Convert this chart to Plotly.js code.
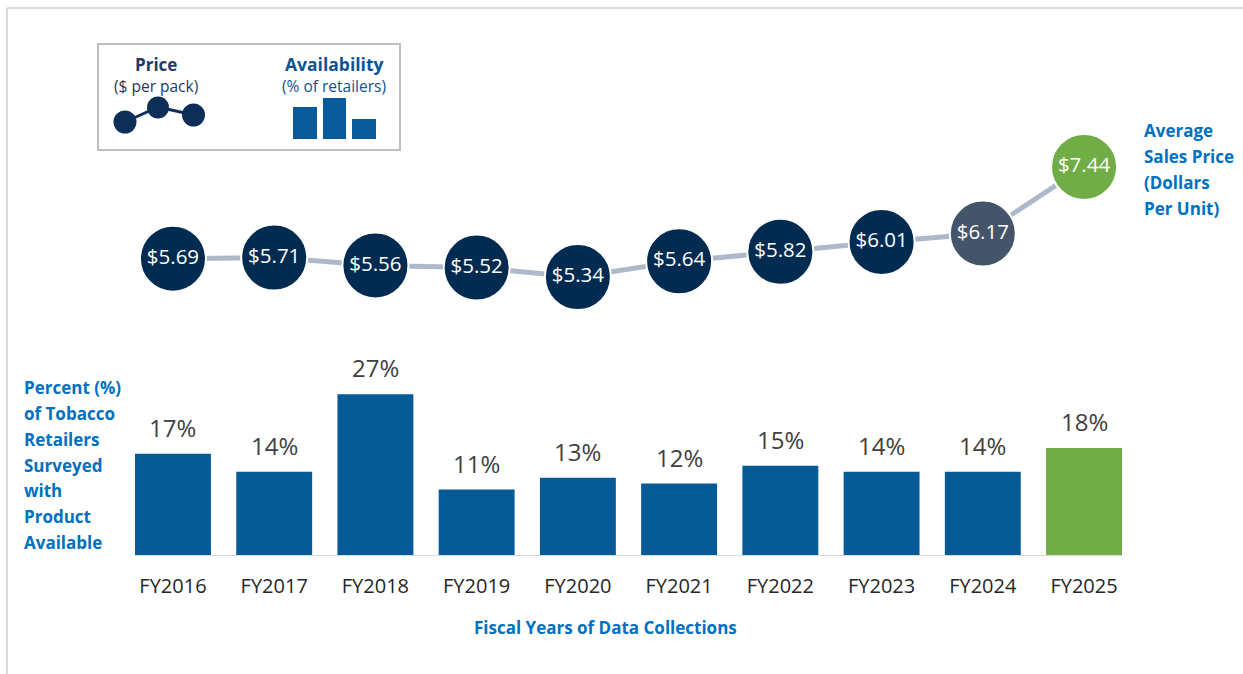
<!DOCTYPE html>
<html>
<head>
<meta charset="utf-8">
<script src="https://cdn.plot.ly/plotly-3.0.1.min.js"></script>
<style>html,body{margin:0;padding:0;background:#fff;}#chart{width:1243px;height:674px;}</style>
</head>
<body>
<div id="chart"></div>
<script>
// ---- data ----
const years = ["FY2016","FY2017","FY2018","FY2019","FY2020","FY2021","FY2022","FY2023","FY2024","FY2025"];
const availability = [17, 14, 27, 11, 13, 12, 15, 14, 14, 18];
const prices = [5.69, 5.71, 5.56, 5.52, 5.34, 5.64, 5.82, 6.01, 6.17, 7.44];
const priceLabels = ["$5.69","$5.71","$5.56","$5.52","$5.34","$5.64","$5.82","$6.01","$6.17","$7.44"];
const availLabels = ["17%","14%","27%","11%","13%","12%","15%","14%","14%","18%"];
const leftTitleLines = ["Percent (%)","of Tobacco","Retailers","Surveyed","with","Product","Available"];
const rightTitleLines = ["Average","Sales Price","(Dollars","Per Unit)"];
const xTitle = "Fiscal Years of Data Collections";

// ---- styling ----
const NAVY = "#022b52", SLATE = "#44546a", GREEN = "#70ad47", BARBLUE = "#065a96", LBLUE = "#0070c0";
const barColors = years.map((y,i)=> i===years.length-1 ? GREEN : BARBLUE);
const dotColors = years.map((y,i)=> i===years.length-1 ? GREEN : (i===years.length-2 ? SLATE : NAVY));

const W=1243,H=674, L=135, R=121, T=10, B=119;
const PW=W-L-R, PH=H-T-B;
const fx = px => (px-L)/PW;
const fy = py => (H-B-py)/PH;

const FONT = "Open Sans, Lato, sans-serif";

const traces = [
  {type:"bar", x:years, y:availability, marker:{color:barColors}, width:0.75,
   hoverinfo:"skip", xaxis:"x", yaxis:"y"},
  {type:"scatter", mode:"lines+markers+text", x:years, y:prices, text:priceLabels,
   textposition:"middle center", textfont:{family:FONT, size:20.5, color:"#ffffff"},
   line:{color:"#adb9ca", width:5},
   marker:{size:66, color:dotColors, line:{color:"#ffffff", width:2}},
   cliponaxis:false, hoverinfo:"skip", xaxis:"x", yaxis:"y2"}
];

const annotations = [];
years.forEach((y,i)=>{
  annotations.push({x:y, y:availability[i], xref:"x", yref:"y", text:availLabels[i],
    showarrow:false, yanchor:"bottom", yshift:8, font:{family:FONT, size:24, color:"#404040"}});
});
leftTitleLines.forEach((t,i)=>{
  annotations.push({xref:"paper", yref:"paper", x:fx(22), y:fy(388+i*25.7), text:"<b>"+t+"</b>",
    xanchor:"left", yanchor:"middle", showarrow:false, font:{family:FONT, size:17, color:LBLUE}});
});
rightTitleLines.forEach((t,i)=>{
  annotations.push({xref:"paper", yref:"paper", x:fx(1142), y:fy(131+i*25.7), text:"<b>"+t+"</b>",
    xanchor:"left", yanchor:"middle", showarrow:false, font:{family:FONT, size:17, color:LBLUE}});
});
annotations.push({xref:"paper", yref:"paper", x:fx(605), y:fy(627), text:"<b>"+xTitle+"</b>",
  xanchor:"center", yanchor:"middle", showarrow:false, font:{family:FONT, size:17, color:LBLUE}});
// legend box texts
annotations.push({xref:"paper", yref:"paper", x:fx(156), y:fy(64), text:"<b>Price</b>", showarrow:false,
  xanchor:"center", yanchor:"middle", font:{family:FONT, size:17, color:"#1f3864"}});
annotations.push({xref:"paper", yref:"paper", x:fx(156), y:fy(86), text:"($ per pack)", showarrow:false,
  xanchor:"center", yanchor:"middle", font:{family:FONT, size:15.5, color:"#1f3864"}});
annotations.push({xref:"paper", yref:"paper", x:fx(334), y:fy(64), text:"<b>Availability</b>", showarrow:false,
  xanchor:"center", yanchor:"middle", font:{family:FONT, size:17.5, color:"#0b5394"}});
annotations.push({xref:"paper", yref:"paper", x:fx(334), y:fy(86), text:"(% of retailers)", showarrow:false,
  xanchor:"center", yanchor:"middle", font:{family:FONT, size:15.5, color:"#0b5394"}});

function rectPx(x0,y0,x1,y1,opts){
  return Object.assign({type:"rect", xref:"paper", yref:"paper", x0:fx(x0), x1:fx(x1), y0:fy(y0), y1:fy(y1)}, opts);
}
function circPx(cx,cy,r,color){
  return {type:"circle", xref:"paper", yref:"paper", x0:fx(cx-r), x1:fx(cx+r), y0:fy(cy-r), y1:fy(cy+r),
    fillcolor:color, line:{width:0}};
}
const legendNavy = "#0d2f57", legendBlue = "#0a5a9a";
const shapes = [
  // outer frame
  {type:"line", xref:"paper", yref:"paper", x0:fx(7), x1:fx(1250), y0:fy(8), y1:fy(8), line:{color:"#d9d9d9", width:2}},
  {type:"line", xref:"paper", yref:"paper", x0:fx(7), x1:fx(7), y0:fy(8), y1:fy(680), line:{color:"#d9d9d9", width:2}},
  // legend box
  rectPx(98,44,400,150,{line:{color:"#bfbfbf", width:2}, fillcolor:"rgba(0,0,0,0)"}),
  {type:"path", xref:"paper", yref:"paper",
   path:`M ${fx(125)} ${fy(122)} L ${fx(158)} ${fy(107)} L ${fx(194)} ${fy(115)}`, line:{color:legendNavy, width:3}},
  circPx(125,122,11.5,legendNavy),
  circPx(158,107.5,11,legendNavy),
  circPx(193.5,115,11.5,legendNavy),
  rectPx(293,107,317,139,{fillcolor:legendBlue, line:{width:0}}),
  rectPx(323,98,346,139,{fillcolor:legendBlue, line:{width:0}}),
  rectPx(352,119,376,139,{fillcolor:legendBlue, line:{width:0}})
];

const layout = {
  width:W, height:H, margin:{l:L, r:R, t:T, b:B},
  paper_bgcolor:"#ffffff", plot_bgcolor:"#ffffff", showlegend:false,
  xaxis:{type:"category", range:[-0.5+0.125, years.length-0.5-0.125], showgrid:false, zeroline:false,
    showline:true, linecolor:"#d9d9d9", linewidth:1, ticks:"", ticklabelstandoff:13,
    tickfont:{family:FONT, size:20, color:"#262626"}, fixedrange:true},
  yaxis:{range:[0, PH/5.95], visible:false, fixedrange:true},
  yaxis2:{range:[5.34-(H-B-277)/52.4, 5.34+(277-T)/52.4], overlaying:"y", visible:false, fixedrange:true},
  annotations:annotations, shapes:shapes
};

Plotly.newPlot("chart", traces, layout, {displayModeBar:false, staticPlot:true});
</script>
</body>
</html>
